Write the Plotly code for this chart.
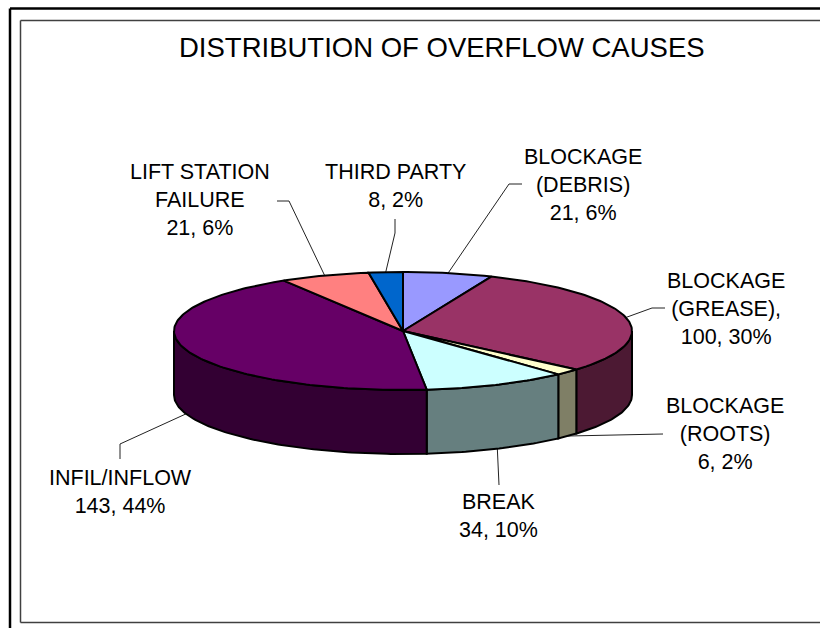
import numpy as np
import plotly.graph_objects as go

# ---------------- data ----------------
categories = ["BLOCKAGE (DEBRIS)", "BLOCKAGE (GREASE)", "BLOCKAGE (ROOTS)", "BREAK",
              "INFIL/INFLOW", "LIFT STATION FAILURE", "THIRD PARTY"]
counts = [21, 100, 6, 34, 143, 21, 8]
percent_labels = ["6%", "30%", "2%", "10%", "44%", "6%", "2%"]
label_names = ["BLOCKAGE<br>(DEBRIS)", "BLOCKAGE<br>(GREASE),", "BLOCKAGE<br>(ROOTS)", "BREAK",
               "INFIL/INFLOW", "LIFT STATION<br>FAILURE", "THIRD PARTY"]
title_text = "DISTRIBUTION OF OVERFLOW CAUSES"

# ---------------- style / layout ----------------
top_colors = ["#9999FF", "#993366", "#FFFFCC", "#CCFFFF", "#660066", "#FF8080", "#0066CC"]
W, H = 820, 628
cx, cy, rx, ry, depth = 403, 331, 229, 59, 64
FONT = "Arial, Liberation Sans, sans-serif"
label_pos = [(583, 185), (726, 309), (725, 434), (498, 516), (120, 492), (200, 200), (395, 186)]
leader_path = [[(509, 184), (522, 184)],
               [(652, 308), (665, 308)],
               [(663, 434)],
               [(499, 485)],
               [(120, 444), (120, 459)],
               [(289, 201), (277, 201)],
               [(395, 233), (395, 219)]]


def darken(hex_color, f=0.5):
    h = hex_color.lstrip("#")
    r, g, b = (int(h[i:i + 2], 16) for i in (0, 2, 4))
    return "rgb(%d,%d,%d)" % (r * f, g * f, b * f)


def ell(theta_deg, dz=0.0):
    t = np.radians(theta_deg)
    return cx + rx * np.sin(t), cy - ry * np.cos(t) + dz


def arc(a, b, dz=0.0):
    n = max(2, int(abs(b - a) / 1.0) + 2)
    th = np.linspace(a, b, n)
    x, y = ell(th, dz)
    return list(x), list(y)


total = sum(counts)
bounds = np.concatenate([[0], np.cumsum(counts)]) / total * 360.0

fig = go.Figure()

# leader lines
for i in range(len(counts)):
    mid = (bounds[i] + bounds[i + 1]) / 2
    front = 90 < mid < 270
    ax, ay = ell(mid, depth if front else 0)
    xs = [ax] + [p[0] for p in leader_path[i]]
    ys = [ay] + [p[1] for p in leader_path[i]]
    fig.add_trace(go.Scatter(x=xs, y=ys, mode="lines", line=dict(color="#222222", width=1),
                             hoverinfo="skip", showlegend=False))

# side walls (front half only)
for i in range(len(counts)):
    lo, hi = max(bounds[i], 90), min(bounds[i + 1], 270)
    if lo >= hi:
        continue
    tx, ty = arc(lo, hi, 0)
    bx, by = arc(hi, lo, depth)
    xs = tx + bx + [tx[0]]
    ys = ty + by + [ty[0]]
    fig.add_trace(go.Scatter(x=xs, y=ys, mode="lines", fill="toself",
                             fillcolor=darken(top_colors[i]),
                             line=dict(color="black", width=2),
                             hoverinfo="skip", showlegend=False))

# top faces
for i in range(len(counts)):
    ax_, ay_ = arc(bounds[i], bounds[i + 1], 0)
    xs = [cx] + ax_ + [cx]
    ys = [cy] + ay_ + [cy]
    fig.add_trace(go.Scatter(x=xs, y=ys, mode="lines", fill="toself",
                             fillcolor=top_colors[i],
                             line=dict(color="black", width=2),
                             name=categories[i], hoverinfo="skip", showlegend=False))

annotations = [dict(x=442, y=47, text=title_text, showarrow=False,
                    font=dict(family=FONT, size=27.5, color="black"),
                    xanchor="center", yanchor="middle")]
for i in range(len(counts)):
    txt = "%s<br>%d, %s" % (label_names[i], counts[i], percent_labels[i])
    annotations.append(dict(x=label_pos[i][0], y=label_pos[i][1], text=txt, showarrow=False,
                            font=dict(family=FONT, size=21.5, color="black"),
                            xanchor="center", yanchor="middle", align="center"))

outer = dict(color="black", width=2.5)
inner = dict(color="#404040", width=1.5)
shapes = [
    dict(type="line", x0=10, y0=8.5, x1=W, y1=8.5, line=outer),
    dict(type="line", x0=10, y0=8.5, x1=10, y1=H, line=outer),
    dict(type="line", x0=20.5, y0=20.5, x1=W, y1=20.5, line=inner),
    dict(type="line", x0=20.5, y0=20.5, x1=20.5, y1=622.5, line=inner),
    dict(type="line", x0=20.5, y0=622.5, x1=W, y1=622.5, line=inner),
]

fig.update_layout(
    width=W, height=H, margin=dict(l=0, r=0, t=0, b=0),
    paper_bgcolor="white", plot_bgcolor="white",
    xaxis=dict(range=[0, W], visible=False, fixedrange=True),
    yaxis=dict(range=[H, 0], visible=False, fixedrange=True),
    annotations=annotations, shapes=shapes,
)

fig.write_html("out.html", config={"displayModeBar": False},
               post_script="document.body.style.margin='0px';document.body.style.overflow='hidden';")
